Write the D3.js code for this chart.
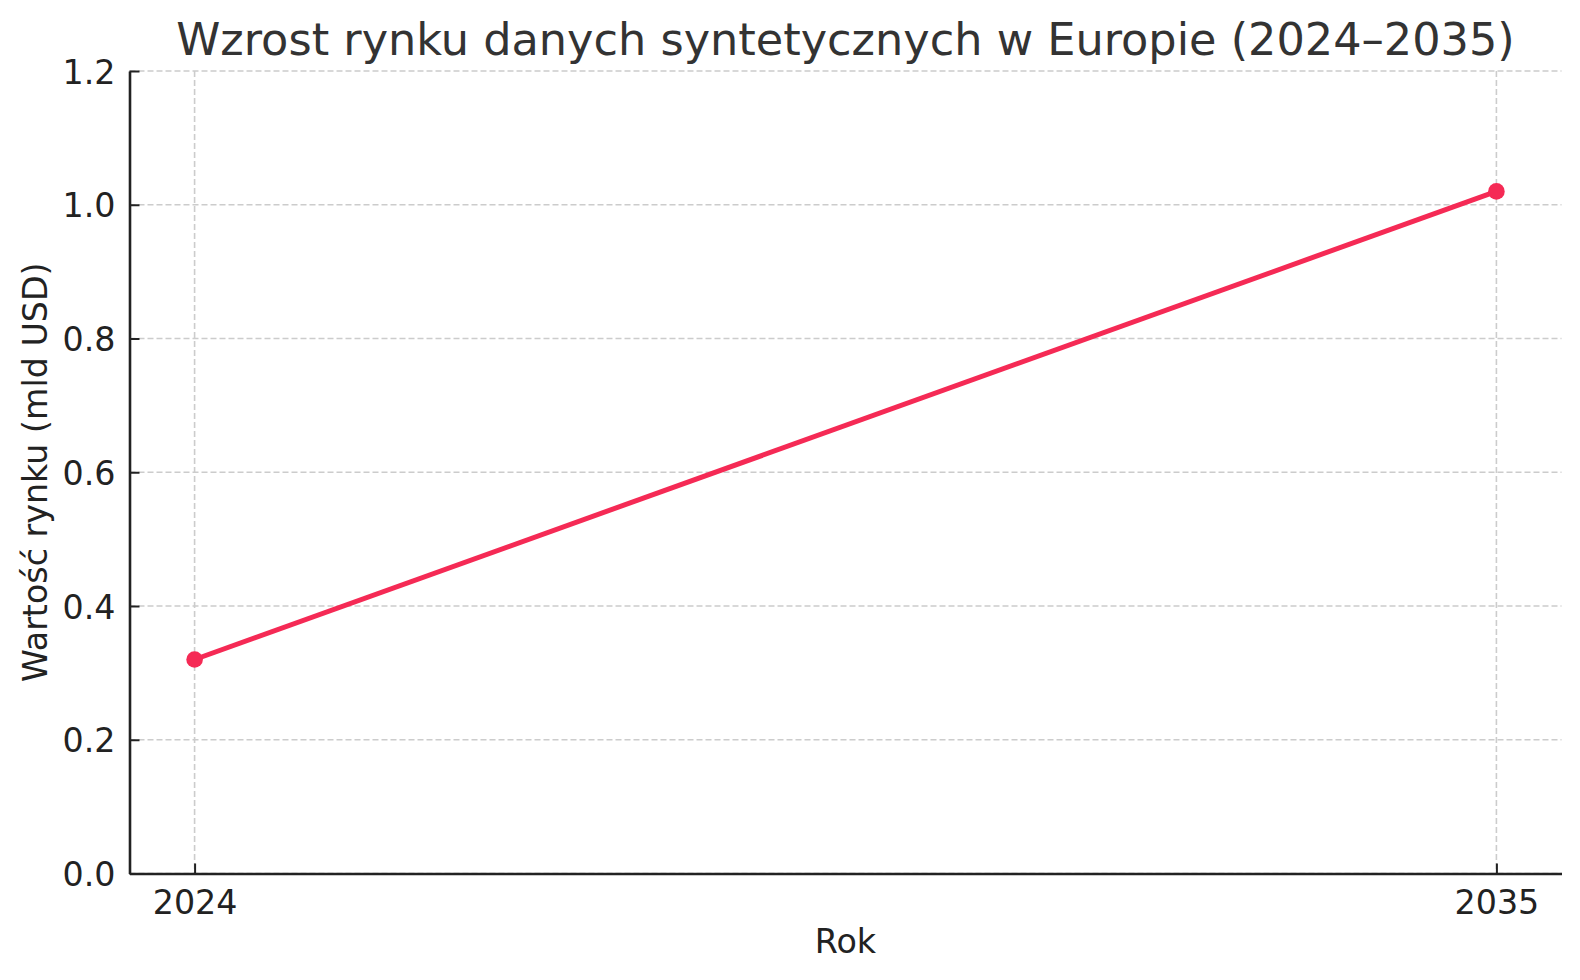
<!DOCTYPE html>
<html><head><meta charset="utf-8">
<script src="https://cdn.jsdelivr.net/npm/d3@7"></script>
<style>body{margin:0;background:#fff}svg{display:block}text{font-family:"DejaVu Sans",sans-serif}</style>
</head><body>
<svg id="c" width="1580" height="980"></svg>
<script>
const years = [2024, 2035];
const values = [0.32, 1.02];
const yTicks = [0, 0.2, 0.4, 0.6, 0.8, 1.0, 1.2];
const title = "Wzrost rynku danych syntetycznych w Europie (2024–2035)";
const xLabel = "Rok";
const yLabel = "Wartość rynku (mld USD)";

const W = 1580, H = 980;
const m = {left: 129.5, right: 1561.5, top: 71, bottom: 873.5};
const svg = d3.select("#c");
const pad = (years[1]-years[0])*0.05;
const x = d3.scaleLinear().domain([years[0]-pad, years[1]+pad]).range([m.left, m.right]);
const y = d3.scaleLinear().domain([0, 1.2]).range([m.bottom, m.top]);

// grid
const g = svg.append("g");
g.selectAll(".hg").data(yTicks).join("line")
  .attr("x1", m.left).attr("x2", m.right)
  .attr("y1", d=>y(d)).attr("y2", d=>y(d))
  .attr("stroke", "#cccccc").attr("stroke-width", 1.6).attr("stroke-dasharray", "6,3");
g.selectAll(".vg").data(years).join("line")
  .attr("x1", d=>x(d)).attr("x2", d=>x(d))
  .attr("y1", m.top).attr("y2", m.bottom)
  .attr("stroke", "#cccccc").attr("stroke-width", 1.6).attr("stroke-dasharray", "6,3");

// axes
const yAxis = d3.axisLeft(y).tickValues(yTicks).tickFormat(d3.format(".1f")).tickSizeInner(-10).tickSizeOuter(0).tickPadding(14);
const xAxis = d3.axisBottom(x).tickValues(years).tickFormat(d3.format("d")).tickSizeInner(-10).tickSizeOuter(0).tickPadding(16);
const ya = svg.append("g").attr("transform", `translate(${m.left},0)`).call(yAxis);
const xa = svg.append("g").attr("transform", `translate(0,${m.bottom})`).call(xAxis);
[ya, xa].forEach(a => {
  a.select(".domain").attr("stroke", "#222").attr("stroke-width", 2.6);
  a.selectAll(".tick line").attr("stroke", "#222").attr("stroke-width", 2);
  a.selectAll(".tick text").attr("fill", "#222").attr("font-size", 33.3).attr("font-family", "DejaVu Sans");
});
ya.selectAll(".tick text").attr("dy", "0.36em");
xa.selectAll(".tick text").attr("dy", "0.74em");

// line
const line = d3.line().x((d,i)=>x(years[i])).y(d=>y(d));
svg.append("path").datum(values).attr("d", line)
  .attr("fill", "none").attr("stroke", "#f52a55").attr("stroke-width", 5);
svg.selectAll(".pt").data(values).join("circle")
  .attr("cx", (d,i)=>x(years[i])).attr("cy", d=>y(d)).attr("r", 8.3).attr("fill", "#f52a55");

// labels
svg.append("text").attr("x", (m.left+m.right)/2).attr("y", 55).attr("text-anchor", "middle")
  .attr("font-size", 44.6).attr("fill", "#333").text(title);
svg.append("text").attr("x", (m.left+m.right)/2).attr("y", 953).attr("text-anchor", "middle")
  .attr("font-size", 33.3).attr("fill", "#222").text(xLabel);
svg.append("text").attr("transform", `translate(47,${(m.top+m.bottom)/2}) rotate(-90)`).attr("text-anchor", "middle")
  .attr("font-size", 33.3).attr("fill", "#222").text(yLabel);
</script>
</body></html>
